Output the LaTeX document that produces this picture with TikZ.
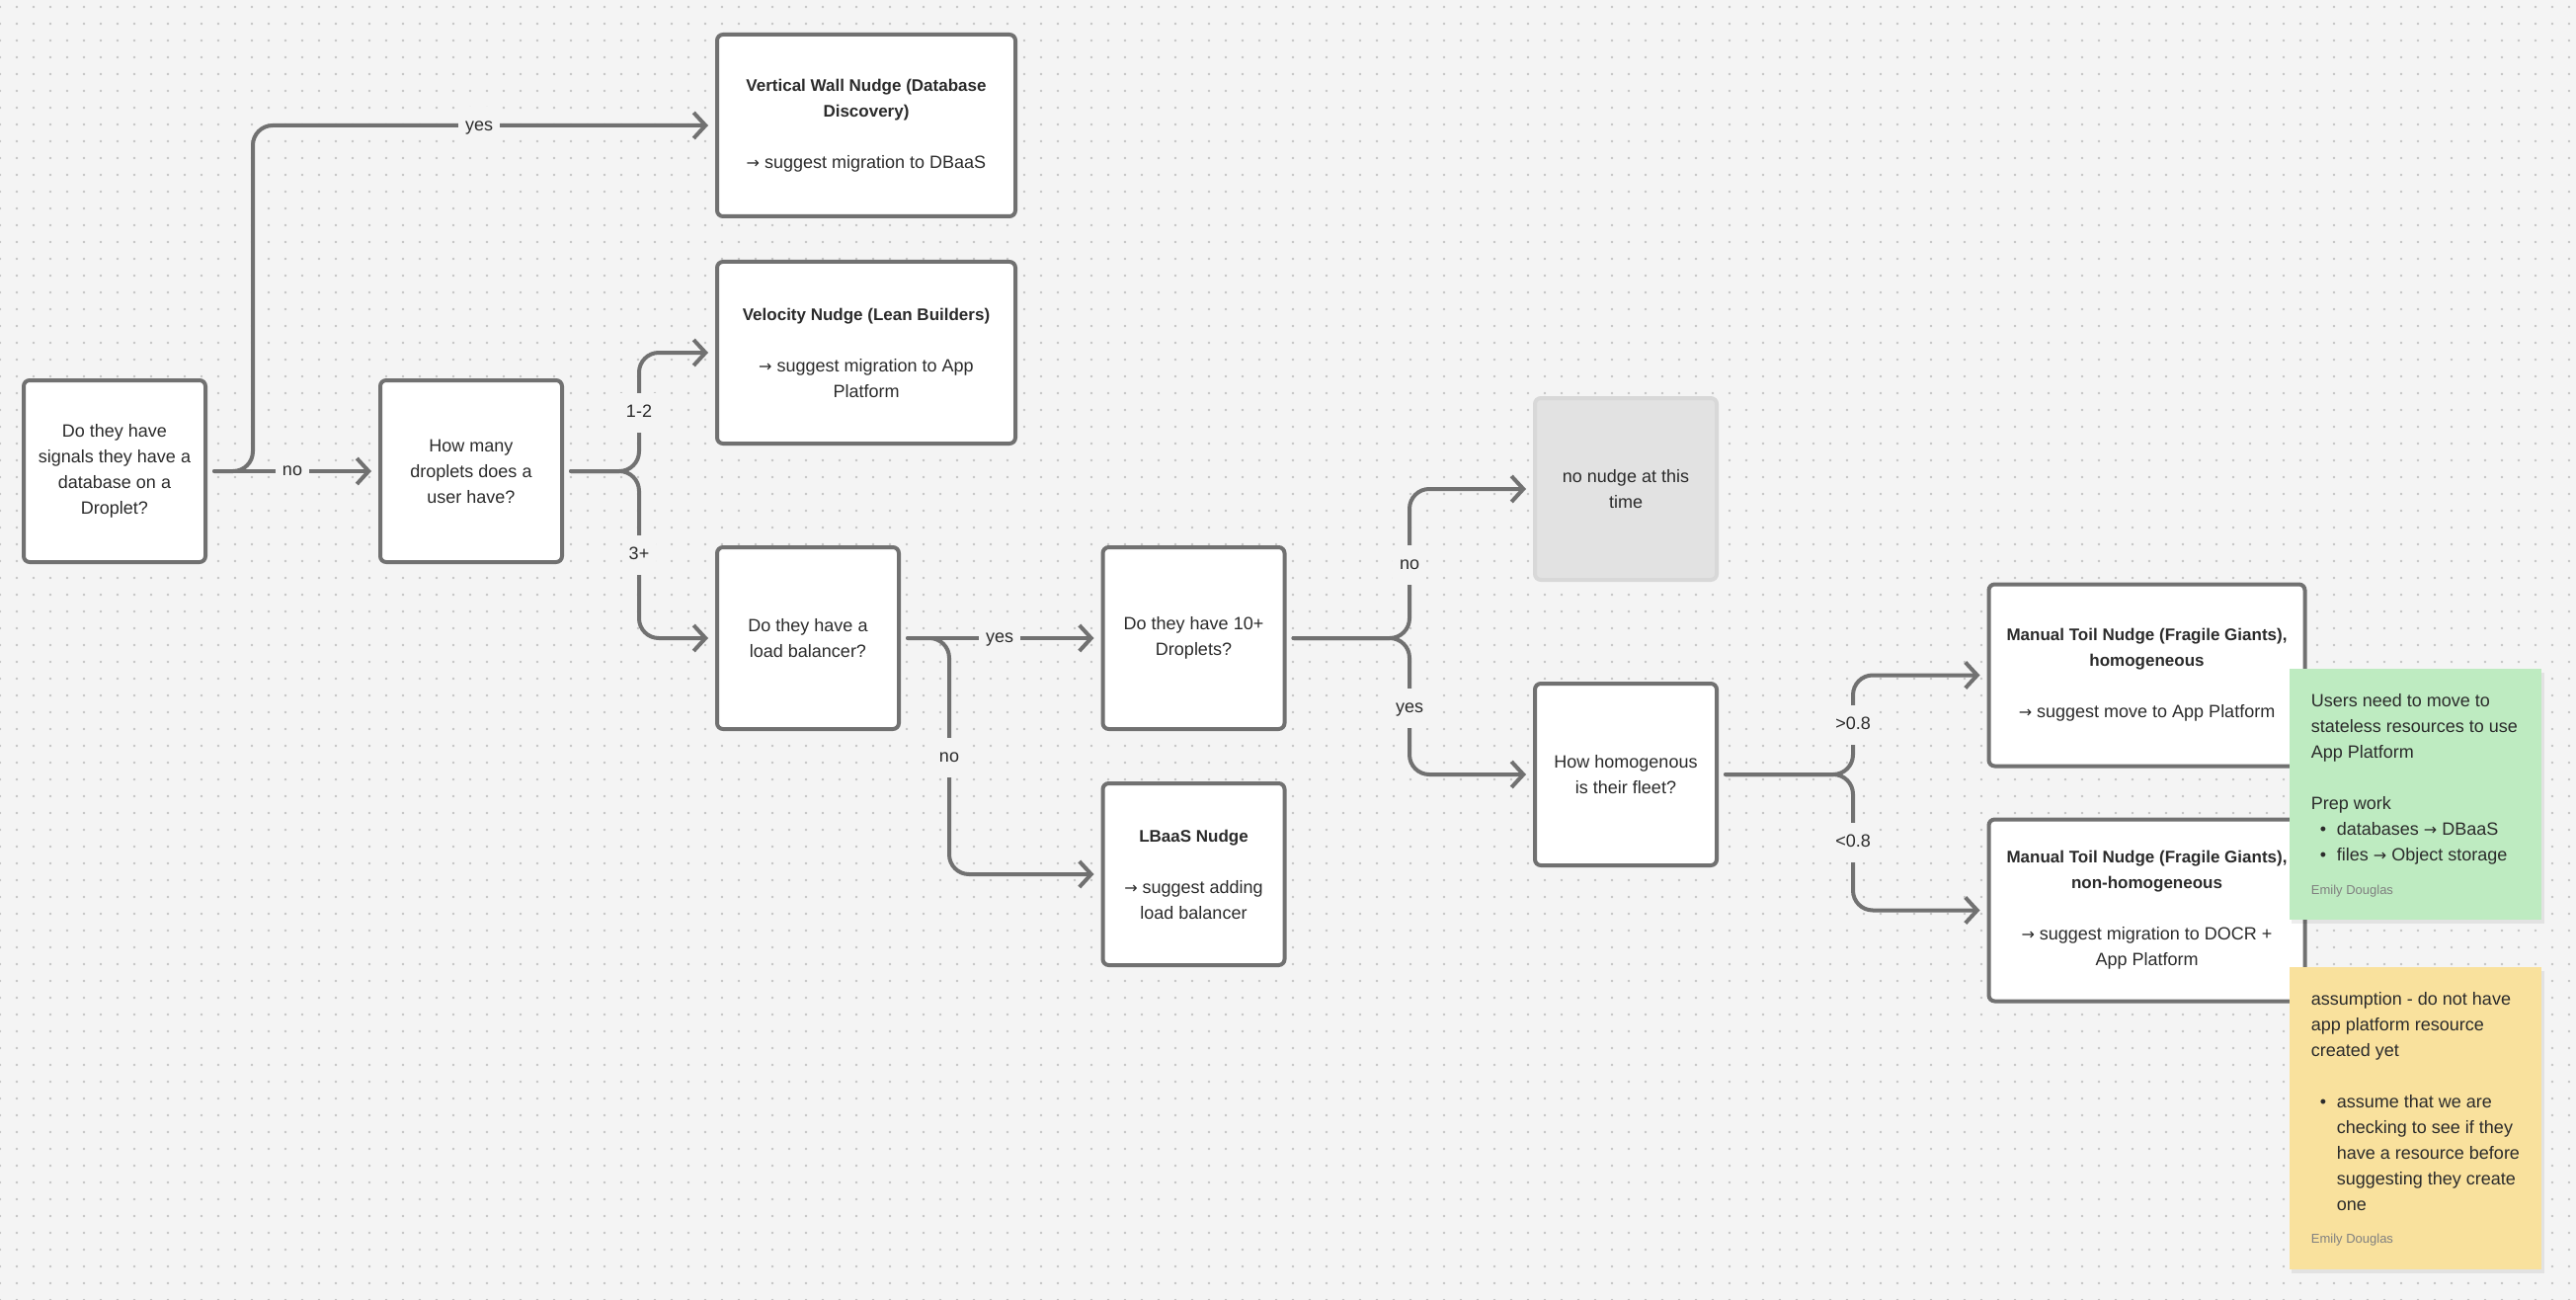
\documentclass[tikz,border=0pt]{standalone}
\usepackage{fontspec}
\setmainfont{Liberation Sans}
\newfontfamily\symf{DejaVu Sans}
\usetikzlibrary{arrows.meta,patterns.meta,calc}
\definecolor{bg}{HTML}{F4F4F4}
\definecolor{dotc}{HTML}{C4C4C4}
\definecolor{edge}{HTML}{717171}
\definecolor{ink}{HTML}{2B2B2B}
\definecolor{greyfill}{HTML}{E2E2E2}
\definecolor{greyedge}{HTML}{D8D8D8}
\definecolor{stgreen}{HTML}{BEEBC1}
\definecolor{styellow}{HTML}{F9E19D}
\newcommand\fs{\fontsize{9pt}{13pt}\selectfont}
\newcommand\ttl[1]{{\fontsize{8.5pt}{13pt}\selectfont\bfseries #1}}
\newcommand\arr{{\symf\fontsize{8pt}{13pt}\selectfont →}}
\newcommand\stbul{\hspace*{4.5pt}\makebox[8.5pt][l]{\textbullet}}
\newcommand\stind{\hspace*{13pt}}
\tikzset{
  fbox/.style={draw=edge, line width=2pt, fill=white, rounded corners=3pt, align=center, text=ink, font=\fs, inner sep=0pt},
  sqbox/.style={fbox, minimum width=92pt, minimum height=92pt},
  widebox/.style={fbox, minimum width=151pt, minimum height=92pt},
  mtbox/.style={fbox, minimum width=160pt, minimum height=92pt},
  greybox/.style={fbox, draw=greyedge, fill=greyfill, minimum width=92pt, minimum height=92pt},
  conn/.style={draw=edge, line width=2pt, rounded corners=10pt, line cap=round, -{Straight Barb[length=6pt,width=13pt]}},
  lab/.style={fill=bg, text=ink, font=\fs, inner xsep=3.5pt, inner ysep=0pt, minimum height=20pt, text height=6.5pt, text depth=2pt},
  stnote/.style={minimum width=127.5pt, minimum height=127pt, anchor=north west, inner sep=0pt},
  sttext/.style={anchor=north west, align=left, text=ink, font=\fs, inner sep=0pt},
  auth/.style={anchor=west, text=black!50, font=\fontsize{6.5pt}{8pt}\selectfont, inner sep=0pt}
}
\begin{document}
\begin{tikzpicture}[x=0.5pt,y=-0.5pt]
\useasboundingbox (0,0) rectangle (2608,1316);
\fill[bg] (0,0) rectangle (2608,1316);
\fill[pattern={Dots[distance=8.5pt,radius=0.65pt]}, pattern color=dotc] (0,0) rectangle (2608,1316);

% nodes
\node[sqbox] (q1) at (116,477) {Do they have\\signals they have a\\database on a\\Droplet?};
\node[sqbox] (q2) at (477,477) {How many\\droplets does a\\user have?};
\node[widebox] (vw) at (877,127) {\ttl{Vertical Wall Nudge (Database}\\\ttl{Discovery)}\\[13pt]\arr{} suggest migration to DBaaS};
\node[widebox] (vel) at (877,357) {\ttl{Velocity Nudge (Lean Builders)}\\[13pt]\arr{} suggest migration to App\\Platform};
\node[sqbox] (lb) at (818,646) {Do they have a\\load balancer?};
\node[sqbox] (ten) at (1208.5,646) {Do they have 10+\\Droplets?};
\node[sqbox] (lbaas) at (1208.5,885) {\ttl{LBaaS Nudge}\\[13pt]\arr{} suggest adding\\load balancer};
\node[greybox] (none) at (1646,495) {no nudge at this\\time};
\node[sqbox] (homog) at (1646,784) {How homogenous\\is their fleet?};
\node[mtbox] (mt1) at (2173.5,683.5) {\ttl{Manual Toil Nudge (Fragile Giants),}\\\ttl{homogeneous}\\[13pt]\arr{} suggest move to App Platform};
\node[mtbox] (mt2) at (2173.5,921.5) {\ttl{Manual Toil Nudge (Fragile Giants),}\\\ttl{non-homogeneous}\\[13pt]\arr{} suggest migration to DOCR +\\App Platform};

% junctions
\coordinate (j1) at (256,477);
\coordinate (j2) at (647,477);
\coordinate (j3) at (961,646);
\coordinate (j4) at (1427,646);
\coordinate (j5) at (1876,784);

% connectors
\draw[conn] ([xshift=3.5pt]q1.east) -- (j1) |- ([xshift=-3.5pt]vw.west);
\draw[conn] ([xshift=3.5pt]q1.east) -- ([xshift=-3.5pt]q2.west);
\draw[conn] ([xshift=3.5pt]q2.east) -- (j2) |- ([xshift=-3.5pt]vel.west);
\draw[conn] ([xshift=3.5pt]q2.east) -- (j2) |- ([xshift=-3.5pt]lb.west);
\draw[conn] ([xshift=3.5pt]lb.east) -- ([xshift=-3.5pt]ten.west);
\draw[conn] ([xshift=3.5pt]lb.east) -- (j3) |- ([xshift=-3.5pt]lbaas.west);
\draw[conn] ([xshift=3.5pt]ten.east) -- (j4) |- ([xshift=-3.5pt]none.west);
\draw[conn] ([xshift=3.5pt]ten.east) -- (j4) |- ([xshift=-3.5pt]homog.west);
\draw[conn] ([xshift=3.5pt]homog.east) -- (j5) |- ([xshift=-3.5pt]mt1.west);
\draw[conn] ([xshift=3.5pt]homog.east) -- (j5) |- ([xshift=-3.5pt]mt2.west);

% labels
\node[lab] (l1) at (485,128) {yes};
\node[lab] (l2) at (296,477) {no};
\node[lab] (l3) at (647,418) {1-2};
\node[lab] (l4) at (647,562) {3+};
\node[lab] (l5) at (1012,646) {yes};
\node[lab] (l6) at (961,767) {no};
\node[lab] (l7) at (1427,572) {no};
\node[lab] (l8) at (1427,717) {yes};
\node[lab] (l9) at (1876,734) {>0.8};
\node[lab] (l10) at (1876,853) {<0.8};

% sticky notes
\fill[black,opacity=0.07] (2320,681) rectangle (2576,935);
\fill[black,opacity=0.07] (2320,983) rectangle (2576,1289);
\node[stnote, fill=stgreen] (gs) at (2318,677) {};
\node[stnote, fill=styellow, minimum height=153pt] (ys) at (2318,979) {};
\node[sttext] (gt) at (2339.5,702) {Users need to move to\\stateless resources to use\\App Platform\\[13pt]Prep work\\\stbul databases \arr{} DBaaS\\\stbul files \arr{} Object storage};
\node[auth] (ga) at (2339.5,902) {Emily Douglas};
\node[sttext] (yt) at (2339.5,1004) {assumption - do not have\\app platform resource\\created yet\\[13pt]\stbul assume that we are\\\stind checking to see if they\\\stind have a resource before\\\stind suggesting they create\\\stind one};
\node[auth] (ya) at (2339.5,1255) {Emily Douglas};
\end{tikzpicture}
\end{document}
